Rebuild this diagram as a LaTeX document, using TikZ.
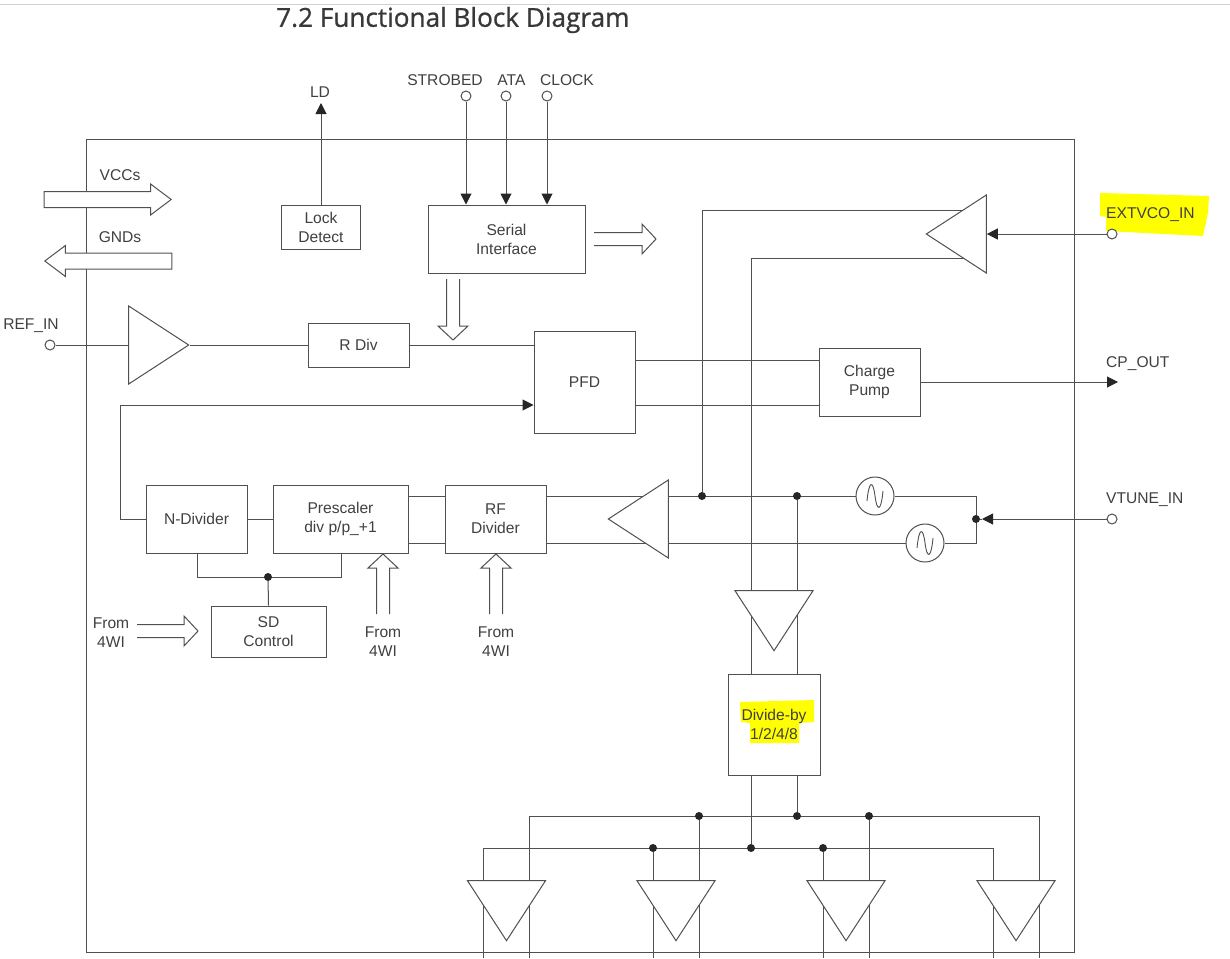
\documentclass[tikz,border=0pt]{standalone}
\usepackage{fontspec}
\setmainfont{Liberation Sans}
\newfontfamily\titlefont[FakeBold=0.9]{Open Sans}
\usetikzlibrary{arrows.meta,shapes.geometric,shapes.arrows,backgrounds}
\definecolor{ink}{HTML}{505050}
\definecolor{marker}{HTML}{FFFF00}
\tikzset{
  wire/.style={draw=ink,line width=1pt},
  sig/.style={wire,-{Triangle[length=11pt,width=11pt,black!85]}},
  block/.style={rectangle,draw=ink,line width=1pt,inner sep=0pt,align=center,text=black!75,font=\fontsize{15.6}{19}\selectfont},
  lbl/.style={inner sep=0pt,align=center,text=black!75,font=\fontsize{15.6}{19}\selectfont},
  term/.style={circle,draw=ink,line width=1pt,fill=white,minimum size=10pt,inner sep=0pt},
  dot/.style={circle,fill=black!85,minimum size=8pt,inner sep=0pt},
  amp/.style={isosceles triangle,isosceles triangle stretches,draw=ink,line width=1pt,fill=white,inner sep=0pt,anchor=apex,minimum width=78pt,minimum height=60pt},
  rail/.style={single arrow,draw=ink,line width=1pt,fill=white,inner sep=0pt,inner ysep=7.5pt,minimum height=127pt,minimum width=30pt,single arrow head extend=7.5pt,single arrow tip angle=74,anchor=tip},
  source/.style={circle,draw=ink,line width=1pt,fill=white,minimum size=38pt,inner sep=0pt,
    path picture={\draw[ink,line width=.9pt,shift={(path picture bounding box.center)}] (-8,5) .. controls (-6,-16) and (-2,-16) .. (0,0) .. controls (2,16) and (6,16) .. (8,-5);}},
  pics/busarrow/.style={code={\draw[wire] (-#1,-6.5) -- (0,-6.5) -- (0,-15) -- (14,0) -- (0,15) -- (0,6.5) -- (-#1,6.5);}}
}
\begin{document}
\begin{tikzpicture}[x=1pt,y=-1pt]
\useasboundingbox (0,0) rectangle (1230,958);
\node at (580,545.5) [draw=ink,line width=1pt,minimum width=988pt,minimum height=813pt,inner sep=0pt] (chip) {};
\node at (615,4.5) [fill=black!18,minimum width=1231pt,minimum height=1.6pt,inner sep=0pt] (toprule) {};
\node at (276,20) [anchor=west,inner sep=0pt,text=black!78,font=\titlefont\fontsize{26.15}{30}\selectfont] (title) {7.2 Functional Block Diagram};

\node at (321,227) [block,minimum width=79pt,minimum height=44pt] (lock) {Lock\\Detect};
\node at (506.5,239) [block,minimum width=157pt,minimum height=68pt] (serial) {Serial\\Interface};
\node at (358.5,345) [block,minimum width=101pt,minimum height=44pt] (rdiv) {R Div};
\node at (584.5,382) [block,minimum width=101pt,minimum height=102pt] (pfd) {PFD};
\node at (869.5,382) [block,minimum width=101pt,minimum height=68pt] (pump) {Charge\\Pump};
\node at (196.5,519) [block,minimum width=101pt,minimum height=68pt] (ndiv) {N-Divider};
\node at (340.5,519) [block,minimum width=135pt,minimum height=68pt] (presc) {Prescaler\\div p/p\_+1};
\node at (495.5,519) [block,minimum width=101pt,minimum height=68pt] (rfdiv) {RF\\Divider};
\node at (268.5,631.5) [block,minimum width=115pt,minimum height=51pt] (sd) {SD\\Control};
\node at (774,724.5) [block,minimum width=92pt,minimum height=101pt] (divby) {Divide-by\\1/2/4/8};

\node at (190,345) [amp] (refamp) {};
\node at (925,234) [amp,shape border rotate=180] (extamp) {};
\node at (607,519) [amp,shape border rotate=180] (vcoamp) {};
\node at (774,652) [amp,shape border rotate=270] (divamp) {};
\foreach \name/\x in {outa/506.5,outb/676,outc/846,outd/1016}
  \node at (\x,942) [amp,shape border rotate=270] (\name) {};

\node at (875,496) [source] (srca) {};
\node at (925,543) [source] (srcb) {};

\node at (172,199.5) [rail] (vcc) {};
\node at (44,261) [rail,shape border rotate=180] (gnd) {};
\node at (120,175.5) [lbl] (vcclbl) {VCCs};
\node at (120,237.5) [lbl] (gndlbl) {GNDs};

\pic[rotate=0] at (642,239) {busarrow=48};
\pic[rotate=-90] at (453,326) {busarrow=47};
\pic[rotate=90] at (383,568) {busarrow=46};
\pic[rotate=90] at (496,568) {busarrow=46};
\pic[rotate=0] at (184,631) {busarrow=47};

\node at (466,96) [term] (strobe) {};
\node at (506,96) [term] (ata) {};
\node at (547,96) [term] (clock) {};
\node at (50,345) [term] (refin) {};
\node at (1112,234) [term] (extin) {};
\node at (1112,519) [term] (vtune) {};

\node at (445,80) [lbl] (strobelbl) {STROBED};
\node at (511.5,80) [lbl] (atalbl) {ATA};
\node at (567,80) [lbl] (clocklbl) {CLOCK};
\node at (320,92) [lbl] (ldlbl) {LD};
\node at (31,326) [lbl] (reflbl) {REF\_IN};
\node at (1106,215) [lbl,anchor=west] (extlbl) {EXTVCO\_IN};
\node at (1106,364) [lbl,anchor=west] (cplbl) {CP\_OUT};
\node at (1106,500) [lbl,anchor=west] (vtunelbl) {VTUNE\_IN};
\node at (111,633) [lbl] (sdlbl) {From\\4WI};
\node at (383,642) [lbl] (preslbl) {From\\4WI};
\node at (496,642) [lbl] (rflbl) {From\\4WI};

\coordinate (ldtip) at (321,103);
\coordinate (cptip) at (1118,382);
\coordinate (vtip) at (982,519);
\coordinate (fbk) at (120,405);
\coordinate (up) at (635,360);
\coordinate (down) at (635,405);
\coordinate (hi) at (0,496);
\coordinate (lo) at (0,543);
\coordinate (exta) at (975,210);
\coordinate (extb) at (975,258);
\coordinate (divl) at (751,674);
\coordinate (divlb) at (751,775);
\coordinate (divrb) at (797,775);
\coordinate (ntap) at (197,553);
\coordinate (ptap) at (341,553);
\coordinate (bus) at (341,577);

\node at (702,496) [dot] (nodea) {};
\node at (797,496) [dot] (nodeb) {};
\node at (976,519) [dot] (nodec) {};
\node at (268,577) [dot] (noded) {};
\foreach \name/\x in {ra/699,rb/797,rc/869}
  \node at (\x,816) [dot] (\name) {};
\foreach \name/\x in {sa/653,sb/751,sc/823}
  \node at (\x,848) [dot] (\name) {};
\foreach \name/\x in {ea/483,eb/529,ec/653,ed/699,ee/823,ef/869,eg/993,eh/1039}
  \coordinate (\name) at (\x,958);

\begin{scope}[on background layer]
\fill[white] (0,0) rectangle (1230,958);
\fill[marker] (1100,193) -- (1209,196) -- (1208,213) -- (1203,236) -- (1106,231) -- (1106,217) -- (1100,216) -- cycle;
\fill[marker] (740,702) -- (814,700) -- (814,722) -- (799,723) -- (799,743) -- (750,743) -- (750,723) -- (741,722) -- cycle;

\draw[sig] (lock.north) -- (ldtip);
\draw[sig] (strobe) -- (strobe |- serial.north);
\draw[sig] (ata) -- (ata |- serial.north);
\draw[sig] (clock) -- (clock |- serial.north);
\draw[wire] (refin) -- (refamp);
\draw[wire] (refamp.apex) -- (rdiv.west);
\draw[wire] (rdiv.east) -- (pfd.west |- rdiv.east);
\draw[sig] (ndiv.west) -| (fbk) -- (pfd.west |- fbk);
\draw[wire] (up) -- (up -| pump.west);
\draw[wire] (down) -- (down -| pump.west);
\draw[sig] (pump.east) -- (cptip);
\draw[sig] (extin) -- (extin -| extamp.left corner);
\draw[wire] (exta) -| (nodea);
\draw[wire] (extb) -| (divl);
\draw[wire] (nodeb) -- (nodeb |- divby.north);
\draw[wire] (ndiv.east) -- (presc.west);
\draw[wire] (presc.east |- hi) -- (rfdiv.west |- hi);
\draw[wire] (presc.east |- lo) -- (rfdiv.west |- lo);
\draw[wire] (rfdiv.east |- hi) -- (srca.west);
\draw[wire] (rfdiv.east |- lo) -- (srcb.west);
\draw[wire] (srca.east) -| (srcb.east -| nodec) -- (srcb.east);
\draw[wire] (nodec) -- (vtip);
\draw[sig] (vtune) -- (vtip);
\draw[wire] (ntap) |- (bus) -- (ptap);
\draw[wire] (noded) -- (sd.north);
\draw[wire] (divlb) -- (sb);
\draw[wire] (divrb) -- (rb);
\draw[wire] (ea) |- (sc -| eg) -- (eg);
\draw[wire] (eb) |- (rc -| eh) -- (eh);
\draw[wire] (sa) -- (ec);
\draw[wire] (ra) -- (ed);
\draw[wire] (sc) -- (ee);
\draw[wire] (rc) -- (ef);
\end{scope}
\end{tikzpicture}
\end{document}
